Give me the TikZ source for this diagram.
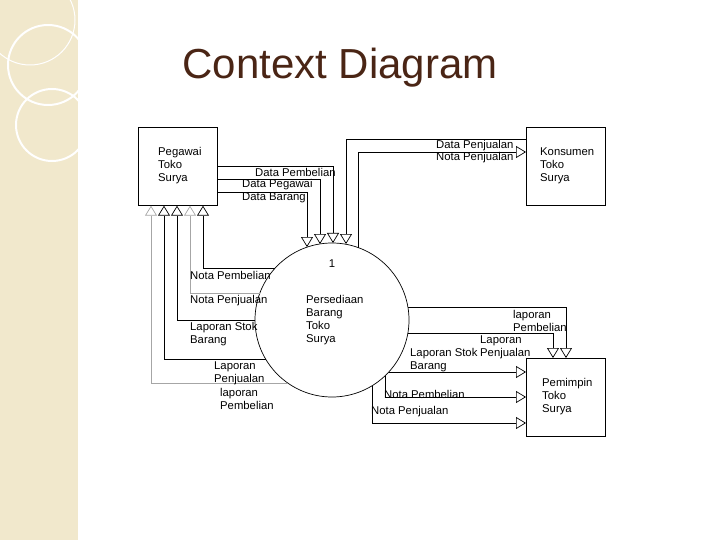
\documentclass[tikz,border=0pt]{standalone}
\usepackage{fontspec}
\setmainfont{Liberation Sans}
\usetikzlibrary{arrows.meta}
\definecolor{strip}{HTML}{F1E8CC}
\definecolor{titlecol}{HTML}{4A2515}
\begin{document}
\begin{tikzpicture}[x=1pt, y=-1pt,
        every node/.style={inner sep=0pt, font=\fontsize{11.3}{13}\selectfont},
        flow/.style={-{Triangle[open,length=10pt,width=12pt]}, line width=0.7pt},
        pale/.style={flow, draw=black!35}
]
\tikzstyle{entity}= [draw, line width=0.7pt, minimum width=79pt, minimum height=78pt, anchor=north west]
\tikzstyle{lbl}= [anchor=west, align=left]
    \useasboundingbox (0,0) rectangle (720,540);
    % left strip
    \fill[strip] (0,0) rectangle (78,540);
    \begin{scope}
        \clip (0,0) rectangle (78,540);
        \draw[white, line width=2pt] (48,65) circle (40);
        \draw[white, line width=2pt] (52,125) circle (36);
        \draw[white, line width=1pt] (30,20) circle (45);
    \end{scope}
    \node[font=\fontsize{42}{48}\selectfont, text=titlecol] (title) at (340,68) {Context Diagram};
    % entities and process
    \node[entity] (peg) at (138,127) {};
    \node[entity] (kon) at (526,127) {};
    \node[entity] (pem) at (526,358) {};
    \node[lbl] at (158,166) {Pegawai\\Toko\\Surya};
    \node[lbl] at (540,166) {Konsumen\\Toko\\Surya};
    \node[lbl] at (542,397) {Pemimpin\\Toko\\Surya};
    \node[draw, circle, line width=0.7pt, minimum size=154pt] (proc) at (332,320) {};
    \node at (332,264) {1};
    \node[lbl] at (306,320) {Persediaan\\Barang\\Toko\\Surya};
    % Pegawai -> proses
    \draw[flow] (peg.east |- 0,166) -| (333,243);
    \draw[flow] (peg.east |- 0,179) -| (320,244);
    \draw[flow] (peg.east |- 0,192) -| (307,247);
    \node[lbl] at (255,172) {Data Pembelian};
    \node[lbl] at (242,185) {Data Pegawai};
    \node[lbl] at (242,198) {Data Barang};
    % Konsumen <-> proses
    \draw[flow] (kon.west |- 0,139) -| (346,244);
    \draw[flow] (358,247.5) |- (kon.west |- 0,152);
    \node[lbl] at (436,146) {Data Penjualan};
    \node[lbl] at (436,158) {Nota Penjualan};
    % proses -> Pegawai
    \draw[flow] (275,268) -| (peg.south -| 203,0);
    \draw[pale] (260,293) -| (peg.south -| 190,0);
    \draw[flow] (255,320) -| (peg.south -| 177,0);
    \draw[flow] (266,359) -| (peg.south -| 164,0);
    \draw[pale] (288,383) -| (peg.south -| 151,0);
    \node[lbl] at (190,275) {Nota Pembelian};
    \node[lbl] at (190,301) {Nota Penjualan};
    \node[lbl] at (190,334) {Laporan Stok\\Barang};
    \node[lbl] at (214,373) {Laporan\\Penjualan};
    \node[lbl] at (220,399) {laporan\\Pembelian};
    % proses -> Pemimpin
    \draw[flow] (408,307) -| (pem.north -| 566,0);
    \draw[flow] (408,333) -| (pem.north -| 553,0);
    \draw[flow] (389,372) -- (pem.west |- 0,372);
    \draw[flow] (385,376) |- (pem.west |- 0,397);
    \draw[flow] (372,386) |- (pem.west |- 0,423);
    \node[lbl] at (513,321) {laporan\\Pembelian};
    \node[lbl] at (480,347) {Laporan\\Penjualan};
    \node[lbl] at (410,360) {Laporan Stok\\Barang};
    \node[lbl] at (384,394) {Nota Pembelian};
    \node[lbl] at (371,412) {Nota Penjualan};
\end{tikzpicture}
\end{document}
